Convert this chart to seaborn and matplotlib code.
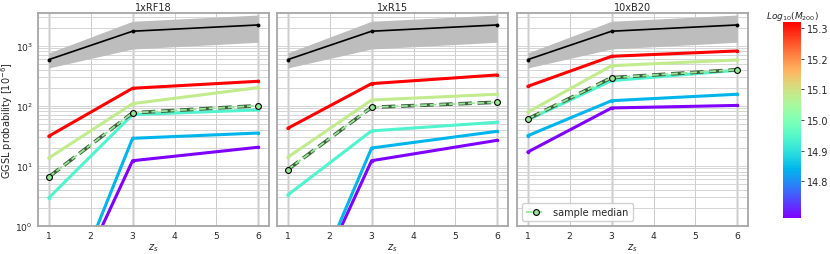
import numpy as np
import pandas as pd
import matplotlib
matplotlib.use("Agg")
import matplotlib.pyplot as plt
import seaborn as sns

sns.set_style("white")
plt.rcParams['font.family'] = ['DejaVu Sans']
plt.rcParams['font.size'] = 6.5
plt.rcParams['mathtext.fontset'] = 'dejavusans'

zs = [1, 3, 6]
surveys = ["1xRF18", "1xR15", "10xB20"]
masses = [15.32, 15.08, 14.94, 14.84, 14.68]  # log10 M200 of the 5 clusters

# GGSL probability [1e-6] per survey, per cluster (same order as masses)
prob_1xRF18 = [
    [31, 195, 255],
    [13.4, 108, 200],
    [2.9, 71, 85],
    [0.0098, 28.6, 35],
    [0.012, 12.1, 20.3],
]
prob_1xR15 = [
    [42, 233, 325],
    [13.8, 124, 155],
    [3.25, 38, 53],
    [0.0104, 19.7, 37.4],
    [0.011, 12.1, 26.5],
]
prob_10xB20 = [
    [210, 665, 816],
    [77.6, 464, 578],
    [58, 261, 389],
    [31.6, 121, 155],
    [16.9, 91.6, 101],
]
median_1xRF18 = [6.5, 76, 100]
median_1xR15 = [8.6, 94, 114]
median_10xB20 = [60, 293, 398]

# reference curve (black) with band, same in all panels
ref_mid = [585, 1740, 2213]
ref_lo = [425, 880, 1140]
ref_hi = [755, 2550, 3240]

probs = [prob_1xRF18, prob_1xR15, prob_10xB20]
medians = [median_1xRF18, median_1xR15, median_10xB20]

vmin, vmax = 14.68, 15.32
norm = matplotlib.colors.Normalize(vmin=vmin, vmax=vmax)
cmap = plt.get_cmap("rainbow")

W, H = 830, 255
fig = plt.figure(figsize=(W / 100, H / 100), dpi=100)
lefts = [38.3, 277.3, 517.3]
axw = 230.5
top_px, bot_px = 14, 226.7
axes = []
for i, l in enumerate(lefts):
    ax = fig.add_axes([l / W, 1 - bot_px / H, axw / W, (bot_px - top_px) / H],
                      sharey=axes[0] if axes else None)
    axes.append(ax)

fs_tick = 6.6
fs_lab = 7
for i, ax in enumerate(axes):
    rows = []
    for m, vals in zip(masses, probs[i]):
        for z, v in zip(zs, vals):
            rows.append({"z": z, "p": v, "mass": m})
    df = pd.DataFrame(rows)
    ax.set_yscale("log")
    for zv in zs:
        ax.axvline(zv, color="#e6e6e6", lw=2.2, zorder=0)
    ax.grid(True, which="major", axis="x", color="#cccccc", lw=0.7, zorder=0)
    ax.grid(True, which="both", axis="y", color="#d5d5d5", lw=0.7, zorder=0)
    ax.set_axisbelow(True)

    ax.fill_between(zs, ref_lo, ref_hi, color="#bdbdbd", lw=0, zorder=1)
    sns.lineplot(x=zs, y=ref_mid, ax=ax, color="black", lw=1.2, marker="o",
                 markersize=2.8, markeredgewidth=0, zorder=3)

    sns.lineplot(data=df, x="z", y="p", hue="mass", palette="rainbow",
                 hue_norm=norm, ax=ax, lw=2.2, legend=False, zorder=2,
                 marker="o", markersize=2.5, markeredgewidth=0)

    # median: dark dashed outline under a light green dashed line with markers
    sns.lineplot(x=zs, y=medians[i], ax=ax, color="#3f5f3f", lw=2.6, ls="--",
                 zorder=4, legend=False)
    sns.lineplot(x=zs, y=medians[i], ax=ax, color="#98e698", lw=1.3, ls="--",
                 marker="o", markersize=4.2, markerfacecolor="#98e698",
                 markeredgecolor="black", markeredgewidth=0.8, zorder=5,
                 label="sample median" if i == 2 else None, legend=(i == 2))

    ax.set_xlim(0.75, 6.25)
    ax.set_ylim(1, 3500)
    ax.set_xticks([1, 2, 3, 4, 5, 6])
    ax.set_title(surveys[i], fontsize=fs_lab, pad=2.5)
    ax.set_xlabel("$z_s$", fontsize=fs_lab, labelpad=0.5)
    ax.tick_params(axis="both", labelsize=fs_tick, length=2.5, width=0.6, pad=1.5)
    ax.tick_params(axis="y", which="minor", length=1.5, width=0.5)
    for s in ax.spines.values():
        s.set_color("#a6a6a6")
        s.set_linewidth(1.3)
    if i == 0:
        ax.set_ylabel("GGSL probability [$10^{-6}$]", fontsize=fs_lab)
        ax.yaxis.set_label_coords(-0.103, 0.5)
    else:
        ax.set_ylabel("")
        ax.tick_params(axis="y", which="both", labelleft=False)

leg = axes[2].legend(loc="lower left", fontsize=fs_lab, frameon=True, handlelength=2.0,
                     borderpad=0.4, framealpha=0.9)
leg.get_frame().set_edgecolor("#cccccc")

cax = fig.add_axes([783.3 / W, 1 - 219.3 / H, 17.7 / W, (219.3 - 22.7) / H])
sm = matplotlib.cm.ScalarMappable(norm=norm, cmap=cmap)
cb = fig.colorbar(sm, cax=cax)
cb.set_ticks([14.8, 14.9, 15.0, 15.1, 15.2, 15.3])
cb.ax.tick_params(labelsize=fs_lab, length=2.5, width=0.6, pad=1.5)
cb.outline.set_visible(False)
cax.set_title("$Log_{10}(M_{200})$", fontsize=6.5, pad=2.5)

fig.savefig("out.png", dpi=100)
